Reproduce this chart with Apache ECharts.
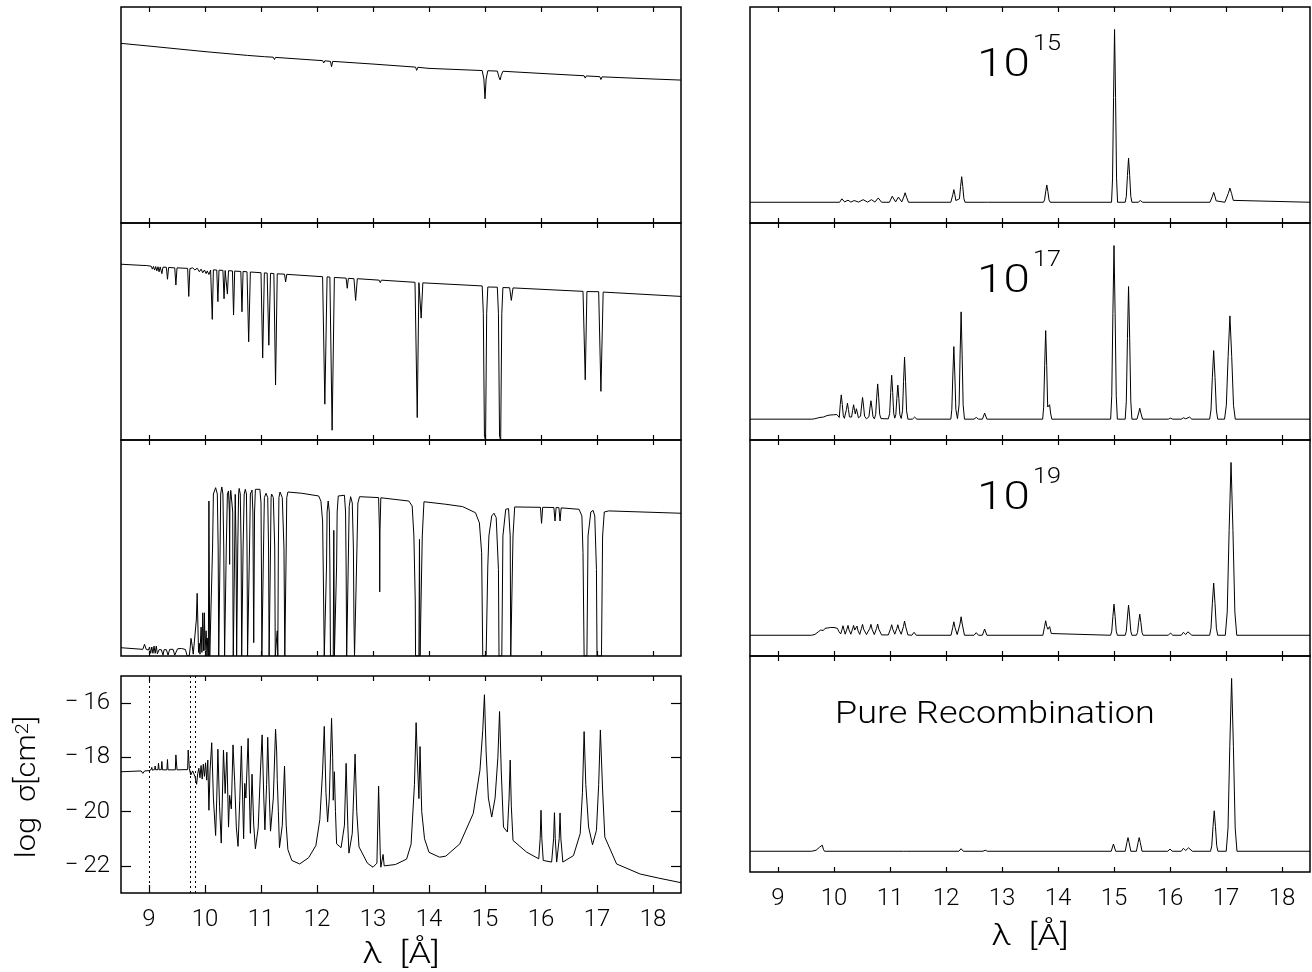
<!DOCTYPE html>
<html>
<head>
<meta charset="utf-8">
<script src="https://cdn.jsdelivr.net/npm/echarts@6/dist/echarts.min.js"></script>
<style>
html,body{margin:0;padding:0;background:#fff;}
#chart{width:1312px;height:972px;}
</style>
</head>
<body>
<div id="chart"></div>
<script>
// ---- tick values and labels ----
const wavelengthTicks = [9, 10, 11, 12, 13, 14, 15, 16, 17, 18];
const logSigmaTicks = [-22, -20, -18, -16];
const edgeWavelengths = [9.0, 9.74, 9.82];
const columnExponents = ['15', '17', '19'];
const recombinationLabel = 'Pure Recombination';

// ---- transmitted spectra, [wavelength (Å), relative flux] ----
const transmissionLow = [
  [8.5,0.998],[9.0,0.983],[10.0,0.952],[10.76,0.931],[10.77,0.925],[10.78,0.931],
  [11.02,0.925],[11.04,0.918],[11.06,0.924],[11.22,0.921],[11.24,0.908],[11.26,0.920],
  [12.0,0.904],[12.10,0.902],[12.12,0.889],[12.14,0.901],[12.24,0.898],[12.26,0.868],[12.28,0.898],
  [13.0,0.883],[13.76,0.866],[13.78,0.848],[13.80,0.865],[14.0,0.859],
  [14.95,0.847],[14.98,0.80],[15.0,0.69],[15.02,0.80],[15.05,0.846],
  [15.22,0.844],[15.25,0.81],[15.27,0.795],[15.29,0.82],[15.32,0.843],
  [16.0,0.831],[16.77,0.818],[16.79,0.805],[16.81,0.817],[17.05,0.813],[17.07,0.797],[17.09,0.812],
  [18.0,0.800],[18.5,0.794]
];

const transmissionMid = [
  [8.5,0.972],[8.91,0.965],[8.93,0.958],[8.95,0.965],
  [9.04,0.961],[9.06,0.945],[9.08,0.960],[9.10,0.94],[9.12,0.959],[9.14,0.935],[9.16,0.958],
  [9.18,0.93],[9.20,0.957],[9.23,0.92],[9.25,0.956],
  [9.31,0.955],[9.33,0.889],[9.35,0.954],[9.46,0.952],[9.48,0.857],[9.50,0.952],
  [9.69,0.949],[9.71,0.794],[9.73,0.948],
  [9.78,0.952],[9.82,0.94],[9.86,0.95],[9.9,0.93],[9.93,0.945],[9.96,0.925],[9.99,0.94],
  [10.02,0.92],[10.04,0.935],[10.07,0.915],[10.1,0.94],
  [10.11,0.942],[10.13,0.667],[10.15,0.941],[10.21,0.94],[10.23,0.765],[10.25,0.939],
  [10.32,0.938],[10.34,0.781],[10.36,0.937],[10.38,0.937],[10.40,0.807],[10.42,0.936],
  [10.49,0.935],[10.51,0.691],[10.53,0.934],[10.64,0.932],[10.66,0.709],[10.68,0.932],
  [10.75,0.930],[10.78,0.543],[10.81,0.929],[11.0,0.925],[11.03,0.454],[11.06,0.924],
  [11.11,0.923],[11.14,0.524],[11.17,0.922],[11.23,0.920],[11.26,0.304],[11.29,0.919],
  [11.42,0.917],[11.44,0.874],[11.46,0.916],
  [12.10,0.903],[12.14,0.198],[12.18,0.902],[12.23,0.901],[12.27,0.054],[12.31,0.899],
  [12.52,0.895],[12.54,0.839],[12.56,0.894],[12.66,0.892],[12.69,0.772],[12.72,0.892],
  [13.11,0.884],[13.13,0.870],[13.15,0.884],
  [13.75,0.872],[13.79,0.124],[13.82,0.870],[13.86,0.674],[13.89,0.869],
  [14.95,0.852],[14.97,0.7],[14.99,0.02],[15.01,0.0],[15.03,0.7],[15.05,0.846],
  [15.22,0.845],[15.24,0.7],[15.26,0.02],[15.28,0.0],[15.30,0.7],[15.32,0.843],
  [15.44,0.842],[15.47,0.772],[15.50,0.841],
  [16.75,0.822],[16.79,0.333],[16.82,0.821],[17.03,0.820],[17.07,0.269],[17.11,0.818],
  [18.5,0.794]
];

const transmissionHigh = [
  [8.5,0.046],[8.89,0.037],[8.92,0.065],[8.95,0.037],[8.99,0.033],
  [9.01,0.05],[9.03,0.015],[9.05,0.05],[9.07,0.015],[9.09,0.055],[9.11,0.015],[9.13,0.055],[9.15,0.012],
  [9.16,0.005],[9.18,0.035],[9.20,0.04],[9.22,0.035],[9.25,0.005],[9.27,0.035],[9.29,0.04],[9.31,0.035],
  [9.34,0.005],[9.37,0.037],[9.40,0.042],[9.43,0.037],[9.46,0.005],[9.49,0.005],[9.51,0.04],[9.58,0.042],
  [9.65,0.036],[9.68,0.002],[9.72,0.002],[9.74,0.06],[9.75,0.098],[9.77,0.06],[9.79,0.01],[9.82,0.01],
  [9.845,0.2],[9.86,0.348],[9.875,0.15],[9.885,0.02],[9.90,0.07],[9.91,0.01],[9.93,0.16],[9.945,0.02],
  [9.96,0.24],[9.975,0.03],[9.99,0.24],[10.0,0.03],[10.02,0.14],[10.035,0.0],[10.05,0.1],[10.06,0.0],
  [10.07,0.861],[10.085,0.0],
  [10.12,0.0],[10.135,0.6],[10.15,0.9],[10.19,0.935],[10.22,0.9],[10.235,0.6],[10.245,0.0],
  [10.26,0.0],[10.27,0.6],[10.28,0.9],[10.30,0.939],[10.32,0.9],[10.335,0.6],[10.35,0.0],
  [10.365,0.0],[10.38,0.6],[10.40,0.9],[10.42,0.917],[10.435,0.8],[10.44,0.509],[10.445,0.85],
  [10.46,0.92],[10.48,0.93],[10.495,0.8],[10.50,0.24],[10.505,0.0],[10.52,0.0],[10.53,0.6],
  [10.54,0.898],[10.555,0.6],[10.565,0.0],[10.575,0.0],[10.585,0.6],[10.60,0.9],[10.61,0.931],
  [10.63,0.9],[10.645,0.6],[10.655,0.0],[10.67,0.0],[10.68,0.6],[10.70,0.9],[10.72,0.926],
  [10.74,0.9],[10.75,0.6],[10.755,0.35],[10.76,0.0],[10.78,0.0],[10.795,0.6],[10.81,0.9],
  [10.84,0.922],[10.855,0.8],[10.865,0.3],[10.87,0.074],[10.875,0.3],[10.885,0.8],[10.90,0.926],
  [10.98,0.926],[11.0,0.85],[11.01,0.4],[11.015,0.0],[11.03,0.0],[11.045,0.6],[11.06,0.88],
  [11.09,0.904],[11.12,0.88],[11.135,0.6],[11.145,0.0],[11.16,0.0],[11.17,0.6],[11.18,0.88],
  [11.19,0.9],[11.22,0.88],[11.245,0.6],[11.255,0.0],[11.28,0.0],[11.29,0.14],[11.30,0.0],
  [11.31,0.6],[11.32,0.88],[11.34,0.911],[11.38,0.88],[11.41,0.6],[11.425,0.0],[11.44,0.0],
  [11.45,0.6],[11.46,0.88],[11.48,0.911],
  [11.73,0.904],[12.03,0.889],[12.07,0.86],[12.10,0.75],[12.115,0.4],[12.13,0.0],[12.16,0.0],
  [12.17,0.5],[12.18,0.8],[12.20,0.861],[12.22,0.8],[12.23,0.5],[12.24,0.0],[12.29,0.0],
  [12.30,0.698],[12.31,0.0],[12.34,0.0],[12.35,0.5],[12.36,0.8],[12.38,0.889],[12.49,0.893],
  [12.51,0.8],[12.52,0.5],[12.53,0.0],[12.55,0.0],[12.56,0.55],[12.575,0.83],[12.60,0.885],
  [12.63,0.85],[12.65,0.6],[12.66,0.2],[12.67,0.0],[12.70,0.0],[12.71,0.55],[12.73,0.85],
  [12.76,0.885],[13.10,0.88],[13.115,0.7],[13.12,0.356],[13.125,0.7],[13.14,0.879],
  [13.64,0.861],[13.70,0.833],[13.73,0.667],[13.755,0.3],[13.76,0.0],[13.82,0.0],[13.83,0.648],
  [13.84,0.0],[13.87,0.0],[13.88,0.667],[13.91,0.857],[14.3,0.843],[14.6,0.83],[14.83,0.796],
  [14.9,0.74],[14.94,0.574],[14.96,0.0],[15.02,0.0],[15.05,0.5],[15.07,0.667],[15.12,0.778],
  [15.16,0.793],[15.20,0.769],[15.24,0.48],[15.25,0.0],[15.30,0.0],[15.32,0.667],[15.37,0.815],
  [15.42,0.819],[15.45,0.667],[15.46,0.0],[15.49,0.0],[15.50,0.667],[15.53,0.828],[15.99,0.826],
  [16.01,0.737],[16.03,0.826],[16.23,0.825],[16.25,0.75],[16.27,0.825],[16.32,0.824],[16.34,0.75],
  [16.36,0.823],[16.68,0.815],[16.73,0.778],[16.75,0.574],[16.77,0.0],[16.82,0.0],[16.84,0.667],
  [16.89,0.8],[16.93,0.809],[16.96,0.778],[16.99,0.48],[17.0,0.0],[17.08,0.0],[17.10,0.667],
  [17.13,0.8],[17.21,0.806],[18.5,0.793]
];

// ---- absorption cross section, [wavelength (Å), log sigma (cm^2)] ----
const logSigma = [
  [8.5,-18.53],[8.86,-18.50],[8.89,-18.59],[8.92,-18.50],[9.0,-18.49],
  [9.04,-18.45],[9.05,-18.37],[9.06,-18.47],[9.10,-18.45],[9.11,-18.32],[9.12,-18.46],
  [9.16,-18.45],[9.17,-18.22],[9.18,-18.46],[9.22,-18.45],[9.23,-18.15],[9.24,-18.46],
  [9.32,-18.46],[9.33,-18.08],[9.34,-18.46],[9.47,-18.46],[9.48,-17.91],[9.50,-18.46],
  [9.69,-18.45],[9.70,-17.73],[9.72,-18.4],[9.745,-18.65],[9.78,-18.5],[9.82,-18.7],
  [9.85,-18.99],[9.87,-18.6],[9.89,-18.4],[9.91,-18.75],[9.93,-18.3],[9.95,-18.8],
  [9.97,-18.25],[9.99,-18.7],[10.01,-18.2],[10.03,-18.84],[10.05,-18.1],[10.07,-19.95],
  [10.09,-18.5],[10.12,-17.46],[10.15,-19.5],[10.19,-20.88],[10.21,-19.5],[10.23,-17.70],
  [10.26,-19.8],[10.29,-21.16],[10.31,-19.5],[10.33,-17.73],[10.36,-19.33],[10.39,-17.81],
  [10.42,-20.57],[10.44,-19.4],[10.47,-19.9],[10.50,-17.54],[10.53,-18.9],[10.56,-20.6],
  [10.59,-21.28],[10.62,-19.6],[10.65,-17.58],[10.68,-20.2],[10.69,-21.0],[10.71,-18.96],
  [10.73,-19.5],[10.77,-17.30],[10.80,-20.0],[10.81,-20.8],[10.84,-18.62],[10.87,-20.5],
  [10.90,-21.37],[10.95,-20.6],[10.99,-18.5],[11.02,-17.17],[11.05,-19.5],[11.07,-20.67],
  [11.10,-19.0],[11.12,-17.26],[11.15,-19.5],[11.17,-20.72],[11.22,-19.5],[11.26,-16.96],
  [11.28,-17.8],[11.29,-18.81],[11.31,-20.0],[11.33,-21.33],[11.38,-20.5],[11.42,-18.32],
  [11.45,-20.5],[11.48,-21.4],[11.55,-21.8],[11.69,-21.93],[11.85,-21.7],[11.98,-21.25],
  [12.05,-20.3],[12.10,-18.5],[12.13,-16.86],[12.16,-19.3],[12.19,-20.38],[12.22,-19.5],
  [12.26,-16.56],[12.28,-18.0],[12.29,-19.58],[12.31,-18.53],[12.33,-20.0],[12.35,-21.19],
  [12.43,-21.33],[12.49,-20.5],[12.52,-18.22],[12.55,-20.5],[12.57,-21.53],[12.63,-20.8],
  [12.68,-17.88],[12.71,-20.0],[12.75,-21.3],[12.9,-21.9],[13.0,-22.05],[13.07,-21.9],
  [13.10,-19.06],[13.13,-21.6],[13.14,-22.05],[13.18,-21.58],[13.20,-22.0],[13.22,-22.05],
  [13.4,-21.95],[13.6,-21.75],[13.68,-21.2],[13.74,-19.0],[13.77,-16.72],[13.80,-18.5],
  [13.82,-19.52],[13.84,-17.6],[13.87,-20.0],[13.92,-21.0],[14.0,-21.5],[14.19,-21.68],
  [14.3,-21.64],[14.55,-21.19],[14.79,-20.07],[14.91,-18.47],[14.96,-17.0],[14.99,-15.69],
  [15.02,-17.8],[15.06,-19.5],[15.12,-20.2],[15.18,-19.5],[15.23,-18.0],[15.26,-16.31],
  [15.29,-18.5],[15.33,-20.57],[15.40,-20.75],[15.43,-19.5],[15.45,-18.1],[15.47,-19.8],
  [15.50,-21.06],[15.74,-21.49],[15.96,-21.74],[15.985,-21.0],[16.0,-19.95],[16.015,-21.0],
  [16.04,-21.8],[16.19,-21.86],[16.225,-21.0],[16.24,-20.04],[16.255,-21.0],[16.28,-21.86],
  [16.325,-21.0],[16.34,-20.05],[16.355,-21.0],[16.39,-21.86],[16.58,-21.62],[16.70,-20.81],
  [16.74,-19.3],[16.77,-17.05],[16.80,-19.0],[16.85,-20.57],[16.92,-21.22],[16.99,-20.69],
  [17.03,-19.0],[17.06,-16.99],[17.10,-19.2],[17.14,-20.94],[17.35,-21.93],[17.77,-22.3],
  [18.1,-22.45],[18.5,-22.62]
];

// ---- emission spectra, [wavelength (Å), normalised intensity] ----
const emissionN15 = [
  [8.5,0],[10.10,0],[10.14,0.02],[10.19,0.002],[10.25,0.012],[10.30,0.001],[10.36,0.01],[10.44,0.001],
  [10.52,0.015],[10.60,0.001],[10.67,0.015],[10.73,0.001],[10.79,0.025],[10.85,0],[10.99,0],
  [11.04,0.035],[11.10,0.002],[11.15,0.03],[11.21,0.002],[11.245,0.03],[11.27,0.055],[11.295,0.03],[11.33,0],
  [12.086,0],[12.104,0.01],[12.122,0.044],[12.14,0.073],[12.158,0.044],[12.176,0.01],[12.20,0.004],
  [12.24,0.02],[12.26,0.09],[12.28,0.148],[12.30,0.09],[12.32,0.02],[12.34,0],
  [12.68,0],[12.71,0.005],[12.74,0],
  [13.74,0],[13.76,0.0135],[13.78,0.061],[13.80,0.10],[13.82,0.061],[13.84,0.0135],[13.86,0],
  [14.956,0],[14.974,0.135],[14.992,0.607],[15.01,1.0],[15.028,0.607],[15.046,0.135],[15.064,0],
  [15.20,0],[15.22,0.034],[15.24,0.155],[15.26,0.255],[15.28,0.155],[15.30,0.034],[15.32,0],
  [15.43,0],[15.47,0.01],[15.51,0],
  [16.714,0],[16.736,0.008],[16.758,0.035],[16.78,0.057],[16.802,0.035],[16.824,0.008],[16.846,0],
  [16.98,0],[17.01,0.011],[17.04,0.05],[17.07,0.082],[17.10,0.05],[17.13,0.011],[17.16,0],
  [18.5,0]
];

const emissionN17 = [
  [8.5,0],[9.60,0],[9.65,0.002],[9.70,0.006],[9.75,0.01],[9.78,0.015],[9.81,0.012],[9.84,0.018],
  [9.87,0.02],[9.90,0.018],[9.93,0.024],[9.96,0.02],[9.99,0.025],[10.02,0.022],[10.05,0.027],[10.08,0.02],
  [10.094,0.01],[10.112,0.085],[10.13,0.14],[10.148,0.085],[10.166,0.02],[10.185,0.005],
  [10.204,0.014],[10.222,0.056],[10.24,0.092],[10.258,0.056],[10.276,0.013],[10.29,0.004],
  [10.314,0.012],[10.332,0.05],[10.35,0.083],[10.368,0.05],[10.38,0.03],
  [10.40,0.06],[10.418,0.036],[10.436,0.008],[10.455,0.003],
  [10.474,0.017],[10.492,0.076],[10.51,0.125],[10.528,0.076],[10.546,0.017],[10.58,0.002],
  [10.624,0.014],[10.642,0.064],[10.66,0.106],[10.678,0.064],[10.696,0.014],[10.72,0.002],
  [10.744,0.027],[10.762,0.123],[10.78,0.203],[10.798,0.123],[10.816,0.027],[10.84,0.003],
  [10.97,0.002],[10.994,0.034],[11.012,0.154],[11.03,0.253],[11.048,0.154],[11.066,0.034],[11.085,0.006],
  [11.104,0.026],[11.122,0.119],[11.14,0.196],[11.158,0.119],[11.176,0.026],[11.20,0.004],
  [11.224,0.048],[11.242,0.217],[11.26,0.357],[11.278,0.217],[11.296,0.048],[11.32,0],
  [11.40,0],[11.44,0.012],[11.48,0],
  [12.086,0],[12.104,0.056],[12.122,0.254],[12.14,0.418],[12.158,0.254],[12.176,0.056],[12.205,0.003],
  [12.234,0.083],[12.252,0.375],[12.27,0.618],[12.288,0.375],[12.306,0.083],[12.33,0],
  [12.50,0],[12.54,0.01],[12.58,0],[12.65,0],[12.69,0.035],[12.73,0],
  [13.726,0],[13.744,0.069],[13.762,0.31],[13.78,0.51],[13.798,0.31],[13.816,0.07],[13.835,0.06],
  [13.85,0.083],[13.87,0.03],[13.89,0],
  [14.94,0],[14.96,0.135],[14.98,0.607],[15.0,1.0],[15.02,0.607],[15.04,0.135],[15.06,0],
  [15.20,0],[15.22,0.103],[15.24,0.464],[15.26,0.764],[15.28,0.464],[15.30,0.103],[15.32,0],
  [15.41,0],[15.44,0.035],[15.46,0.063],[15.48,0.035],[15.51,0],
  [15.97,0],[16.01,0.006],[16.05,0],[16.20,0],[16.24,0.008],[16.28,0.002],[16.35,0.012],[16.39,0],
  [16.708,0],[16.732,0.053],[16.756,0.24],[16.78,0.395],[16.804,0.24],[16.828,0.053],[16.852,0],
  [16.974,0],[17.006,0.08],[17.038,0.361],[17.07,0.595],[17.102,0.361],[17.134,0.08],[17.166,0],
  [18.5,0]
];

const emissionN19 = [
  [8.5,0],[9.60,0],[9.66,0.005],[9.72,0.02],[9.76,0.03],[9.78,0.034],[9.81,0.028],[9.84,0.04],
  [9.86,0.045],[9.88,0.042],[9.91,0.05],[9.94,0.045],[9.97,0.052],[10.0,0.045],[10.03,0.05],
  [10.06,0.04],[10.09,0.02],[10.12,0.008],[10.145,0.035],[10.16,0.055],[10.18,0.03],[10.20,0.006],
  [10.23,0.035],[10.25,0.057],[10.27,0.03],[10.30,0.006],[10.33,0.035],[10.35,0.057],[10.37,0.03],
  [10.38,0.02],[10.41,0.053],[10.43,0.025],[10.46,0.005],[10.49,0.04],[10.51,0.063],[10.53,0.035],
  [10.58,0.004],[10.64,0.04],[10.66,0.063],[10.68,0.035],[10.72,0.004],[10.76,0.04],[10.78,0.065],
  [10.80,0.035],[10.85,0.002],[10.97,0.002],[11.01,0.038],[11.03,0.061],[11.05,0.035],[11.085,0.006],
  [11.12,0.038],[11.14,0.061],[11.16,0.035],[11.20,0.006],[11.24,0.05],[11.26,0.082],[11.28,0.05],
  [11.32,0.002],[11.39,0],[11.43,0.017],[11.47,0],
  [12.09,0],[12.12,0.045],[12.14,0.078],[12.16,0.045],[12.20,0.004],[12.25,0.065],[12.27,0.107],
  [12.29,0.065],[12.33,0],[12.50,0],[12.54,0.015],[12.58,0],[12.65,0],[12.69,0.036],[12.73,0],
  [13.73,0],[13.76,0.05],[13.78,0.084],[13.80,0.05],[13.82,0.035],[13.85,0.05],[13.88,0.01],[13.90,0],
  [14.94,0],[14.96,0.024],[14.98,0.109],[15.0,0.18],[15.02,0.109],[15.04,0.024],[15.06,0],
  [15.20,0],[15.22,0.023],[15.24,0.106],[15.26,0.174],[15.28,0.106],[15.30,0.023],[15.32,0],
  [15.40,0],[15.42,0.016],[15.44,0.074],[15.46,0.122],[15.48,0.074],[15.50,0.016],[15.52,0],
  [15.97,0],[16.01,0.013],[16.05,0],[16.20,0],[16.24,0.017],[16.28,0.004],[16.32,0.02],[16.35,0.031],[16.39,0],
  [16.708,0],[16.732,0.041],[16.756,0.183],[16.78,0.302],[16.804,0.183],[16.828,0.041],[16.852,0],
  [16.988,0],[17.022,0.135],[17.056,0.607],[17.09,1.0],[17.124,0.607],[17.158,0.135],[17.192,0],
  [18.5,0]
];

const emissionRecombination = [
  [8.5,0],[9.60,0],[9.68,0.006],[9.74,0.023],[9.79,0.035],[9.81,0.012],[9.83,0],
  [11.24,0],[11.27,0.005],[11.30,0],[12.23,0],[12.27,0.015],[12.31,0],[12.66,0],[12.70,0.006],[12.74,0],
  [14.95,0],[14.99,0.042],[15.03,0],[15.20,0],[15.23,0.05],[15.25,0.079],[15.27,0.05],[15.30,0],
  [15.40,0],[15.43,0.05],[15.45,0.079],[15.47,0.05],[15.50,0],
  [15.96,0],[16.0,0.013],[16.04,0],[16.20,0],[16.24,0.017],[16.28,0.004],[16.33,0.02],[16.36,0.027],[16.40,0],
  [16.724,0],[16.746,0.032],[16.768,0.142],[16.79,0.234],[16.812,0.142],[16.834,0.032],[16.856,0],
  [17.004,0],[17.036,0.135],[17.068,0.607],[17.10,1.0],[17.132,0.607],[17.164,0.135],[17.196,0],
  [18.5,0]
];

// ---- layout ----
const FONT = 'Roboto, "DejaVu Sans", sans-serif';
const WEIGHT = 300;
const INK = '#000';

const panels = [
  { box: {left:121, top:7,   width:560, height:216}, data: transmissionLow,  y: [0, 1.2] },
  { box: {left:121, top:223, width:560, height:217}, data: transmissionMid,  y: [0, 1.2] },
  { box: {left:121, top:440, width:560, height:216}, data: transmissionHigh, y: [0, 1.2] },
  { box: {left:121, top:676, width:560, height:217}, data: logSigma,         y: [-23, -15], log: true, xLabels: true },
  { box: {left:750, top:7,   width:560, height:216}, data: emissionN15, y: [-0.12, 1.13] },
  { box: {left:750, top:223, width:560, height:217}, data: emissionN17, y: [-0.12, 1.13] },
  { box: {left:750, top:440, width:560, height:216}, data: emissionN19, y: [-0.12, 1.13] },
  { box: {left:750, top:656, width:560, height:216}, data: emissionRecombination, y: [-0.12, 1.13], xLabels: true }
];

const grid = [], xAxis = [], yAxis = [], series = [];
panels.forEach((p, i) => {
  grid.push(Object.assign({ show: true, borderColor: INK, borderWidth: 1.5, backgroundColor: 'transparent' }, p.box));
  const xTick = { show: true, inside: true, length: p.log ? 8 : 5, customValues: wavelengthTicks,
                  lineStyle: { color: INK, width: 1.2 } };
  const hiddenLine = { show: false, onZero: false };
  xAxis.push({
    gridIndex: i, type: 'value', min: 8.5, max: 18.5, position: 'bottom',
    axisLine: hiddenLine, splitLine: { show: false }, axisTick: xTick,
    axisLabel: { show: !!p.xLabels, customValues: wavelengthTicks, margin: 15, fontSize: 24,
                 fontFamily: FONT, fontWeight: WEIGHT, color: INK }
  });
  xAxis.push({
    gridIndex: i, type: 'value', min: 8.5, max: 18.5, position: 'top',
    axisLine: hiddenLine, splitLine: { show: false },
    axisTick: Object.assign({}, xTick, { length: 5 }), axisLabel: { show: false }
  });
  const yTick = { show: !!p.log, inside: true, length: 10, customValues: logSigmaTicks,
                  lineStyle: { color: INK, width: 1.2 } };
  yAxis.push({
    gridIndex: i, type: 'value', min: p.y[0], max: p.y[1], position: 'left',
    axisLine: hiddenLine, splitLine: { show: false }, axisTick: yTick,
    axisLabel: { show: !!p.log, customValues: logSigmaTicks, margin: 11, fontSize: 24,
                 fontFamily: FONT, fontWeight: WEIGHT, color: INK,
                 formatter: v => (v < 0 ? '\u2212\u2009' : '') + Math.abs(v) }
  });
  yAxis.push({
    gridIndex: i, type: 'value', min: p.y[0], max: p.y[1], position: 'right',
    axisLine: hiddenLine, splitLine: { show: false }, axisTick: yTick, axisLabel: { show: false }
  });
  const s = {
    type: 'line', xAxisIndex: 2 * i, yAxisIndex: 2 * i, data: p.data,
    showSymbol: false, symbol: 'none', silent: true, clip: true,
    lineStyle: { color: INK, width: 1 }
  };
  if (p.log) {
    s.markLine = {
      silent: true, symbol: ['none', 'none'], label: { show: false },
      lineStyle: { color: INK, width: 1, type: [2, 3] },
      data: edgeWavelengths.map(v => ({ xAxis: v }))
    };
  }
  series.push(s);
});

// free-standing labels; scaleX widens the light face towards the wide plotter lettering
const textStyle = (extra) => Object.assign({ fill: INK, fontFamily: FONT, fontWeight: WEIGHT, x: 0, y: 0 }, extra);
const graphic = [];
columnExponents.forEach((exp, k) => {
  const dy = k * 216.5;
  graphic.push({ type: 'text', x: 977, y: 66 + dy, scaleX: 1.22,
                 style: textStyle({ text: '10', fontSize: 39, verticalAlign: 'middle' }) });
  graphic.push({ type: 'text', x: 1033, y: 44 + dy, scaleX: 1.15,
                 style: textStyle({ text: exp, fontSize: 22, verticalAlign: 'middle' }) });
});
graphic.push({ type: 'text', x: 835, y: 715, scaleX: 1.16,
               style: textStyle({ text: recombinationLabel, fontSize: 31, verticalAlign: 'middle' }) });
graphic.push({ type: 'text', x: 401, y: 955, scaleX: 1.2,
               style: textStyle({ text: '\u03bb  [\u00c5]', fontSize: 30, align: 'center', verticalAlign: 'middle' }) });
graphic.push({ type: 'text', x: 1030, y: 937, scaleX: 1.2,
               style: textStyle({ text: '\u03bb  [\u00c5]', fontSize: 30, align: 'center', verticalAlign: 'middle' }) });
graphic.push({
  type: 'text', x: 28, y: 787, rotation: Math.PI / 2, scaleX: 1.1,
  style: textStyle({
    text: '{a|log  \u03c3[cm}{b|2}{a|]}', align: 'center', verticalAlign: 'middle',
    rich: {
      a: { fontSize: 28, fontFamily: FONT, fontWeight: WEIGHT, fill: INK },
      b: { fontSize: 18, fontFamily: FONT, fontWeight: WEIGHT, fill: INK, verticalAlign: 'top' }
    }
  })
});

const chart = echarts.init(document.getElementById('chart'), null, { renderer: 'canvas', width: 1312, height: 972 });
chart.setOption({ animation: false, backgroundColor: '#fff', grid, xAxis, yAxis, series, graphic });
</script>
</body>
</html>
